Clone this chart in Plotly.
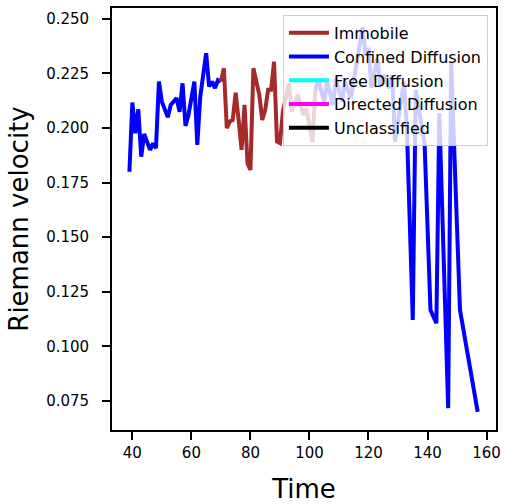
import plotly.graph_objects as go

# ---- data ----
time = [39, 40, 41, 42, 43, 44, 46, 47, 48, 49, 50, 52, 53, 55, 56, 57, 58, 59, 61, 62,
        63, 65, 66, 67, 68, 69, 70,
        71, 72, 73, 74, 75, 76, 77, 78, 79, 80, 81, 83, 84, 85, 86, 87, 88, 89, 90,
        91, 93, 94, 96, 98, 99, 101, 102,
        103, 105, 106, 108, 109, 111, 112, 114, 115, 116, 118, 119, 120, 121, 123, 124,
        125, 127, 128, 129, 132, 133, 135, 136, 139, 141, 143, 144, 147, 148, 151, 157]
velocity = [0.1800, 0.2117, 0.1976, 0.2086, 0.1869, 0.1973, 0.1900, 0.1930, 0.1908, 0.2213,
            0.2121, 0.2050, 0.2106, 0.2137, 0.2075, 0.2205, 0.2010, 0.2060, 0.2213, 0.1923,
            0.2144, 0.2343, 0.2190, 0.2213, 0.2183, 0.2220, 0.2213,
            0.2274, 0.2000, 0.2030, 0.2037, 0.2162, 0.2037, 0.1900, 0.2106, 0.1839, 0.1808,
            0.2274, 0.2152, 0.2037, 0.2083, 0.2175, 0.2175, 0.2304, 0.1938, 0.1931,
            0.2075, 0.2205, 0.2075, 0.2152, 0.2060, 0.2090, 0.1935, 0.2175,
            0.2220, 0.2121, 0.2213, 0.2106, 0.2228, 0.2121, 0.2213, 0.2137, 0.2220, 0.2304,
            0.2462, 0.2335, 0.2367, 0.2184, 0.2320, 0.2198, 0.2243, 0.2183, 0.2243, 0.1938,
            0.2213, 0.2000, 0.1121, 0.2175, 0.1930, 0.1167, 0.1106, 0.2068, 0.0717, 0.2300,
            0.1167, 0.0700]
# classification segments: (label, start time, end time)
segments = [("Confined Diffusion", 39, 70),
            ("Immobile", 70, 102),
            ("Confined Diffusion", 102, 157)]
classes = ["Immobile", "Confined Diffusion", "Free Diffusion", "Directed Diffusion", "Unclassified"]
class_colors = {"Immobile": "#A52A2A", "Confined Diffusion": "#0000FF",
                "Free Diffusion": "#00FFFF", "Directed Diffusion": "#FF00FF",
                "Unclassified": "#000000"}
x_ticks = [40, 60, 80, 100, 120, 140, 160]
y_ticks = [0.075, 0.100, 0.125, 0.150, 0.175, 0.200, 0.225, 0.250]

FONT = "DejaVu Sans"
fig = go.Figure()
shown = set()
for label, t0, t1 in segments:
    xs = [t for t in time if t0 <= t <= t1]
    ys = [v for t, v in zip(time, velocity) if t0 <= t <= t1]
    fig.add_trace(go.Scatter(
        x=xs, y=ys, mode="lines", name=label, legendgroup=label,
        legendrank=classes.index(label) + 1,
        showlegend=label not in shown,
        line=dict(color=class_colors[label], width=4)))
    shown.add(label)
for label in classes:
    if label not in shown:
        fig.add_trace(go.Scatter(
            x=[None], y=[None], mode="lines", name=label, legendgroup=label,
            legendrank=classes.index(label) + 1,
            line=dict(color=class_colors[label], width=4)))

axis_common = dict(showline=True, linecolor="black", linewidth=1.8, mirror=True,
                   ticks="outside", ticklen=8, tickwidth=1.8, tickcolor="black",
                   showgrid=False, zeroline=False,
                   tickfont=dict(family=FONT, size=15, color="black"))
fig.update_xaxes(range=[33.1, 163.2], tickvals=x_ticks,
                 title=dict(text="Time", font=dict(family=FONT, size=26, color="black"), standoff=20),
                 **axis_common)
fig.update_yaxes(range=[0.0617, 0.255], tickvals=y_ticks, tickformat=".3f",
                 ticklabelstandoff=10,
                 title=dict(text="Riemann velocity", font=dict(family=FONT, size=26, color="black"), standoff=10),
                 **axis_common)
fig.update_layout(
    width=505, height=504,
    margin=dict(l=112, r=9, t=8, b=74, autoexpand=False),
    plot_bgcolor="white", paper_bgcolor="white",
    font=dict(family=FONT, color="black"),
    legend=dict(x=0.979, y=0.984, xanchor="right", yanchor="top",
                bgcolor="rgba(255,255,255,0.8)", bordercolor="#cccccc", borderwidth=1,
                font=dict(family=FONT, size=16, color="black"),
                traceorder="normal", tracegroupgap=1.5, itemwidth=40),
    showlegend=True,
)
fig.write_html("out.html", config={"displayModeBar": False},
               post_script="document.body.style.margin='0';")
